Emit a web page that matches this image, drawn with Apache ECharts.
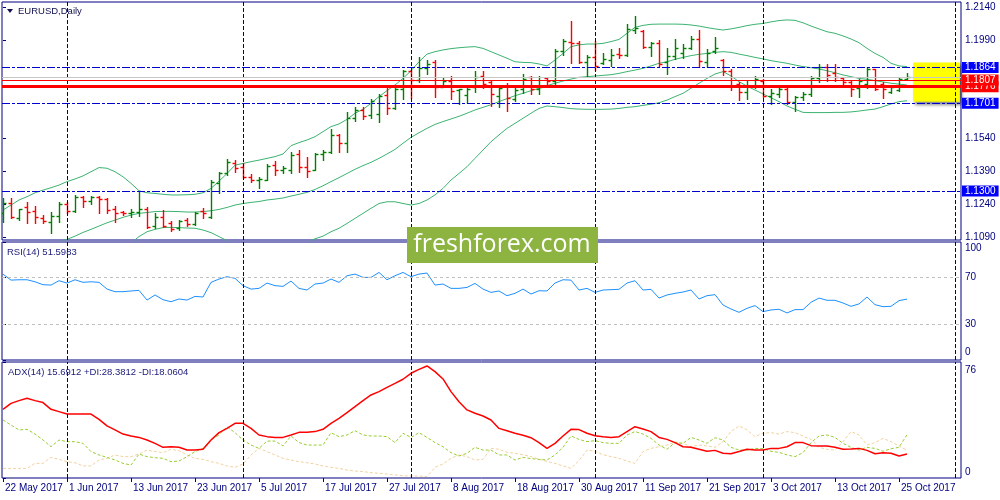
<!DOCTYPE html>
<html><head><meta charset="utf-8">
<script src="https://cdn.jsdelivr.net/npm/echarts@6/dist/echarts.min.js"></script>
<style>html,body{margin:0;padding:0;background:#fff}#c{width:1000px;height:500px}</style>
</head><body><div id="c"></div>
<script>
const dates = ['22 May 2017','23 May 2017','24 May 2017','25 May 2017','26 May 2017','29 May 2017','30 May 2017','31 May 2017',
'1 Jun 2017','2 Jun 2017','5 Jun 2017','6 Jun 2017','7 Jun 2017','8 Jun 2017','9 Jun 2017','12 Jun 2017','13 Jun 2017','14 Jun 2017','15 Jun 2017','16 Jun 2017','19 Jun 2017','20 Jun 2017','21 Jun 2017','22 Jun 2017','23 Jun 2017','26 Jun 2017','27 Jun 2017','28 Jun 2017','29 Jun 2017','30 Jun 2017',
'3 Jul 2017','4 Jul 2017','5 Jul 2017','6 Jul 2017','7 Jul 2017','10 Jul 2017','11 Jul 2017','12 Jul 2017','13 Jul 2017','14 Jul 2017','17 Jul 2017','18 Jul 2017','19 Jul 2017','20 Jul 2017','21 Jul 2017','24 Jul 2017','25 Jul 2017','26 Jul 2017','27 Jul 2017','28 Jul 2017','31 Jul 2017',
'1 Aug 2017','2 Aug 2017','3 Aug 2017','4 Aug 2017','7 Aug 2017','8 Aug 2017','9 Aug 2017','10 Aug 2017','11 Aug 2017','14 Aug 2017','15 Aug 2017','16 Aug 2017','17 Aug 2017','18 Aug 2017','21 Aug 2017','22 Aug 2017','23 Aug 2017','24 Aug 2017','25 Aug 2017','28 Aug 2017','29 Aug 2017','30 Aug 2017','31 Aug 2017',
'1 Sep 2017','4 Sep 2017','5 Sep 2017','6 Sep 2017','7 Sep 2017','8 Sep 2017','11 Sep 2017','12 Sep 2017','13 Sep 2017','14 Sep 2017','15 Sep 2017','18 Sep 2017','19 Sep 2017','20 Sep 2017','21 Sep 2017','22 Sep 2017','25 Sep 2017','26 Sep 2017','27 Sep 2017','28 Sep 2017','29 Sep 2017',
'2 Oct 2017','3 Oct 2017','4 Oct 2017','5 Oct 2017','6 Oct 2017','9 Oct 2017','10 Oct 2017','11 Oct 2017','12 Oct 2017','13 Oct 2017','16 Oct 2017','17 Oct 2017','18 Oct 2017','19 Oct 2017','20 Oct 2017','23 Oct 2017','24 Oct 2017','25 Oct 2017','26 Oct 2017'];

const tickLabels = ['22 May 2017','1 Jun 2017','13 Jun 2017','23 Jun 2017','5 Jul 2017','17 Jul 2017','27 Jul 2017','8 Aug 2017','18 Aug 2017','30 Aug 2017','11 Sep 2017','21 Sep 2017','3 Oct 2017','13 Oct 2017','25 Oct 2017'];
const monthStarts = ['1 Jun 2017','3 Jul 2017','1 Aug 2017','1 Sep 2017','2 Oct 2017'];

const open = [1.1200,1.1244,1.1175,1.1228,1.1209,1.1175,1.1160,1.1186,1.1241,1.1210,
1.1274,1.1256,1.1274,1.1262,1.1216,1.1206,1.1198,1.1206,1.1216,1.1142,
1.1183,1.1156,1.1130,1.1168,1.1150,1.1210,1.1180,1.1335,1.1381,1.1426,
1.1411,1.1365,1.1350,1.1350,1.1418,1.1396,1.1396,1.1469,1.1411,1.1396,
1.1469,1.1479,1.1554,1.1517,1.1634,1.1672,1.1647,1.1650,1.1738,1.1680,
1.1764,1.1847,1.1809,1.1862,1.1890,1.1776,1.1802,1.1761,1.1740,1.1776,
1.1824,1.1797,1.1733,1.1779,1.1721,1.1764,1.1821,1.1767,1.1817,1.1802,
1.1941,1.1980,1.1976,1.1890,1.1913,1.1885,1.1900,1.1926,1.1923,1.2037,
1.2030,1.1958,1.1976,1.1887,1.1917,1.1932,1.1954,1.1992,1.1887,1.1939,
1.1897,1.1849,1.1789,1.1751,1.1781,1.1804,1.1736,1.1744,1.1766,1.1706,
1.1729,1.1741,1.1816,1.1864,1.1838,1.1816,1.1796,1.1771,1.1789,1.1856,
1.1789,1.1751,1.1762,1.1811];
const high = [1.1267,1.1267,1.1216,1.1248,1.1232,1.1190,1.1206,1.1248,1.1251,1.1282,
1.1279,1.1279,1.1279,1.1267,1.1233,1.1210,1.1216,1.1297,1.1229,1.1198,
1.1213,1.1163,1.1168,1.1175,1.1206,1.1221,1.1350,1.1388,1.1444,1.1441,
1.1426,1.1378,1.1365,1.1423,1.1438,1.1416,1.1479,1.1487,1.1457,1.1472,
1.1487,1.1584,1.1558,1.1660,1.1685,1.1685,1.1718,1.1745,1.1779,1.1771,
1.1852,1.1852,1.1913,1.1900,1.1896,1.1817,1.1827,1.1767,1.1786,1.1850,
1.1847,1.1802,1.1779,1.1794,1.1771,1.1832,1.1827,1.1827,1.1821,1.1946,
1.1992,1.2077,1.1984,1.1919,1.1984,1.1928,1.1946,1.1953,1.2064,1.2098,
1.2033,1.1980,1.1991,1.1954,1.1992,1.1969,1.2007,1.2034,1.1947,1.2002,
1.1902,1.1856,1.1796,1.1804,1.1826,1.1811,1.1766,1.1781,1.1771,1.1736,
1.1751,1.1826,1.1879,1.1882,1.1879,1.1822,1.1804,1.1811,1.1864,1.1856,
1.1796,1.1781,1.1819,1.1837];
const low = [1.1160,1.1175,1.1168,1.1156,1.1156,1.1156,1.1107,1.1160,1.1198,1.1203,
1.1229,1.1241,1.1201,1.1198,1.1160,1.1190,1.1183,1.1186,1.1130,1.1133,
1.1137,1.1118,1.1122,1.1140,1.1145,1.1175,1.1175,1.1290,1.1373,1.1388,
1.1358,1.1343,1.1312,1.1350,1.1373,1.1384,1.1381,1.1388,1.1365,1.1396,
1.1441,1.1475,1.1478,1.1478,1.1619,1.1627,1.1634,1.1615,1.1650,1.1675,
1.1721,1.1726,1.1797,1.1832,1.1729,1.1776,1.1718,1.1695,1.1700,1.1751,
1.1771,1.1688,1.1685,1.1665,1.1710,1.1748,1.1745,1.1741,1.1779,1.1776,
1.1923,1.1885,1.1885,1.1824,1.1854,1.1878,1.1870,1.1908,1.1916,1.2022,
1.1953,1.1916,1.1872,1.1834,1.1902,1.1909,1.1947,1.1864,1.1864,1.1932,
1.1831,1.1759,1.1717,1.1721,1.1771,1.1729,1.1696,1.1729,1.1699,1.1665,
1.1714,1.1736,1.1796,1.1804,1.1804,1.1789,1.1732,1.1729,1.1771,1.1762,
1.1726,1.1747,1.1756,1.1807];
const close = [1.1245,1.1180,1.1216,1.1205,1.1183,1.1165,1.1186,1.1241,1.1210,1.1274,
1.1253,1.1274,1.1262,1.1213,1.1198,1.1198,1.1206,1.1216,1.1137,1.1183,
1.1142,1.1128,1.1165,1.1150,1.1198,1.1198,1.1343,1.1381,1.1434,1.1403,
1.1365,1.1350,1.1355,1.1416,1.1396,1.1403,1.1464,1.1411,1.1393,1.1469,
1.1479,1.1555,1.1517,1.1634,1.1672,1.1642,1.1710,1.1736,1.1680,1.1764,
1.1847,1.1809,1.1862,1.1878,1.1776,1.1802,1.1756,1.1764,1.1767,1.1821,
1.1790,1.1741,1.1771,1.1726,1.1761,1.1812,1.1767,1.1776,1.1802,1.1938,
1.1984,1.1976,1.1890,1.1913,1.1870,1.1903,1.1923,1.1923,1.2040,1.2045,
1.1958,1.1976,1.1878,1.1917,1.1954,1.1954,1.1996,1.1894,1.1932,1.1954,
1.1849,1.1781,1.1751,1.1781,1.1811,1.1736,1.1747,1.1766,1.1706,1.1729,
1.1741,1.1816,1.1864,1.1831,1.1819,1.1796,1.1766,1.1804,1.1856,1.1766,
1.1766,1.1777,1.1811,1.1822];

const bbUpper = [1.1213,1.1236,1.1259,1.1274,1.1292,1.1304,1.1315,1.1327,1.1343,1.1355,
1.1369,1.1388,1.1407,1.1404,1.1388,1.1365,1.1335,1.1301,1.1292,1.1289,
1.1285,1.1282,1.1282,1.1283,1.1285,1.1292,1.1312,1.1345,1.1380,1.1418,
1.1426,1.1434,1.1441,1.1449,1.1457,1.1469,1.1507,1.1521,1.1533,1.1548,
1.1571,1.1594,1.1606,1.1627,1.1655,1.1673,1.1700,1.1731,1.1758,1.1784,
1.1814,1.1849,1.1890,1.1925,1.1936,1.1944,1.1950,1.1954,1.1957,1.1959,
1.1951,1.1936,1.1921,1.1906,1.1890,1.1887,1.1886,1.1880,1.1871,1.1898,
1.1928,1.1959,1.1967,1.1971,1.1971,1.1974,1.1982,1.1992,1.2020,1.2047,
1.2056,1.2061,1.2062,1.2062,1.2062,1.2061,1.2058,1.2053,1.2046,1.2040,
1.2035,1.2040,1.2047,1.2055,1.2061,1.2065,1.2072,1.2078,1.2081,1.2079,
1.2068,1.2053,1.2040,1.2027,1.2020,1.2008,1.1994,1.1977,1.1951,1.1928,
1.1910,1.1883,1.1871,1.1868];
const bbMiddle = [1.0975,1.0990,1.1005,1.1020,1.1033,1.1046,1.1058,1.1068,1.1079,1.1094,
1.1111,1.1125,1.1140,1.1155,1.1167,1.1180,1.1190,1.1198,1.1202,1.1206,
1.1207,1.1207,1.1206,1.1204,1.1204,1.1206,1.1210,1.1216,1.1225,1.1236,
1.1243,1.1248,1.1252,1.1259,1.1263,1.1268,1.1277,1.1285,1.1294,1.1307,
1.1324,1.1343,1.1361,1.1380,1.1399,1.1416,1.1431,1.1449,1.1469,1.1490,
1.1518,1.1545,1.1566,1.1586,1.1604,1.1617,1.1629,1.1641,1.1655,1.1670,
1.1682,1.1694,1.1708,1.1722,1.1735,1.1746,1.1758,1.1769,1.1781,1.1792,
1.1802,1.1811,1.1819,1.1822,1.1825,1.1828,1.1831,1.1837,1.1845,1.1852,
1.1860,1.1871,1.1883,1.1890,1.1901,1.1910,1.1918,1.1924,1.1928,1.1933,
1.1936,1.1933,1.1925,1.1918,1.1910,1.1903,1.1895,1.1889,1.1883,1.1875,
1.1868,1.1863,1.1857,1.1849,1.1840,1.1830,1.1822,1.1814,1.1810,1.1804,
1.1798,1.1792,1.1788,1.1784];
const bbLower = [1.0740,1.0745,1.0750,1.0765,1.0775,1.0790,1.0800,1.0810,1.0815,1.0830,
1.0853,1.0862,1.0875,1.0905,1.0945,1.1010,1.1062,1.1092,1.1114,1.1125,
1.1133,1.1134,1.1133,1.1131,1.1130,1.1122,1.1110,1.1092,1.1073,1.1054,
1.1060,1.1062,1.1063,1.1069,1.1069,1.1067,1.1050,1.1052,1.1066,1.1082,
1.1094,1.1114,1.1130,1.1152,1.1175,1.1198,1.1221,1.1243,1.1251,1.1251,
1.1243,1.1236,1.1243,1.1259,1.1282,1.1312,1.1350,1.1380,1.1411,1.1449,
1.1487,1.1525,1.1556,1.1586,1.1609,1.1632,1.1655,1.1677,1.1688,1.1685,
1.1681,1.1676,1.1674,1.1673,1.1673,1.1673,1.1674,1.1677,1.1682,1.1685,
1.1691,1.1696,1.1703,1.1715,1.1731,1.1746,1.1769,1.1792,1.1814,1.1834,
1.1845,1.1825,1.1799,1.1779,1.1761,1.1743,1.1726,1.1708,1.1688,1.1673,
1.1659,1.1658,1.1658,1.1658,1.1659,1.1659,1.1661,1.1665,1.1670,1.1674,
1.1685,1.1697,1.1708,1.1712];

const rsi = [72.8,67.7,68.0,68.0,66.3,63.8,63.5,67.2,65.2,68.0,
65.8,66.3,65.8,60.1,57.9,57.9,58.5,59.0,50.8,55.1,
51.1,49.4,51.7,50.8,53.9,53.4,65.8,68.6,70.6,69.2,
63.0,60.1,60.7,65.2,63.0,62.4,66.9,60.7,59.3,64.4,
65.2,68.6,65.8,71.4,72.8,70.0,70.0,74.2,68.0,71.4,
74.2,70.6,72.8,73.7,63.5,64.4,60.7,60.7,61.5,64.9,
60.1,57.3,58.5,54.5,56.5,60.1,55.9,58.7,58.5,65.2,
68.0,67.7,59.3,60.7,57.3,59.3,59.6,59.9,65.2,67.2,
59.3,59.9,52.5,55.1,56.5,57.6,59.3,51.7,54.5,55.4,
46.6,43.2,40.4,43.8,46.1,41.0,42.4,43.0,39.9,42.7,
42.7,48.9,52.5,50.6,50.6,48.3,45.5,47.5,53.4,46.9,
45.2,45.5,50.3,51.6];

const adx = [45.0,48.9,50.7,52.2,50.7,49.4,45.0,43.5,41.9,41.9,
41.9,41.9,38.4,34.1,31.5,28.8,27.5,26.6,24.9,22.7,
20.1,20.5,20.1,18.3,18.3,18.8,24.9,29.7,32.5,35.8,
35.8,32.5,28.2,27.1,26.6,26.6,28.2,29.9,29.9,30.4,
31.9,35.8,39.1,42.8,46.7,50.7,54.4,56.6,59.4,62.0,
64.7,68.6,71.2,73.4,69.7,64.9,56.6,50.0,44.6,42.4,
40.6,38.0,32.5,31.0,29.3,28.0,26.4,23.2,19.4,22.7,
27.5,31.9,31.7,29.3,27.7,27.1,26.6,27.1,30.4,33.6,
32.1,30.4,26.6,25.3,23.2,20.5,20.1,18.8,17.5,18.1,
16.2,15.9,17.3,18.8,18.3,18.3,19.4,19.4,20.5,23.2,
23.2,21.2,21.0,21.0,20.1,18.8,19.0,19.4,18.1,15.9,
16.6,16.2,14.4,15.7];
const plusDI = [38.0,34.7,31.5,31.9,28.8,24.9,20.5,24.9,23.8,23.8,
22.7,17.3,15.1,13.5,11.8,9.6,8.5,15.7,14.0,13.3,
12.9,10.7,11.1,14.0,17.3,19.4,24.9,28.2,33.6,29.7,
24.9,21.6,19.4,24.2,24.2,21.0,27.5,23.2,21.6,21.6,
21.6,29.7,27.1,28.2,31.0,28.2,27.5,27.5,27.1,23.2,
29.3,26.6,29.7,26.6,23.2,20.5,16.6,14.4,16.2,20.1,
18.3,18.3,15.1,15.1,11.8,13.5,12.7,12.2,11.8,15.1,
20.1,27.5,25.3,23.8,24.5,23.2,22.7,22.7,28.2,30.4,
28.8,26.0,21.6,18.8,23.2,22.7,26.6,24.9,22.7,26.4,
24.9,20.1,18.3,18.3,19.4,19.2,17.5,16.8,15.1,14.0,
16.6,23.2,27.5,28.2,26.6,22.7,20.1,18.3,20.1,19.4,
17.5,19.2,20.1,28.4];
const minusDI = [6.3,6.3,6.3,6.3,9.6,9.6,13.5,12.2,10.7,10.0,
7.9,7.9,11.8,12.9,15.1,14.0,14.0,15.7,18.3,17.3,
16.6,18.8,17.9,15.1,12.9,12.2,10.7,9.6,7.9,7.0,
9.2,15.1,19.4,17.3,15.1,12.9,11.8,10.7,10.0,9.2,
7.9,7.0,6.3,5.2,4.6,4.2,3.5,3.1,2.6,2.0,
1.5,1.3,1.3,0.9,7.0,9.2,12.9,15.1,14.0,11.8,
12.2,19.4,18.8,16.8,16.2,15.3,14.0,12.2,10.9,9.6,
7.9,6.3,11.4,18.3,17.5,15.3,14.0,12.9,11.1,9.6,
17.3,19.4,20.5,21.6,23.6,22.7,20.5,21.6,21.0,20.1,
23.8,30.4,34.1,31.5,27.1,29.3,29.7,28.8,30.4,29.7,
27.5,25.3,20.1,18.8,18.3,23.8,30.4,28.2,21.6,23.2,
26.0,23.8,21.0,18.1];

const priceTicks = [1.1090,1.1240,1.1390,1.1540,1.1990,1.2140];
const rsiTicks = [0,30,70,100];
const adxTicks = [0,76];
const supportResistance = [1.1864,1.1701,1.1300];
const bidLevel = 1.1820;
const redLevelThin = 1.1807;
const redLevelThick = 1.1776;

// ---------- styling / layout ----------
const NAVY = '#000080';
const FONT = "'Liberation Sans', Arial, sans-serif";
const UP = '#008000', DOWN = '#ff0000';
const X_MIN = -0.125, X_MAX = 119.75;
const tickIdx = tickLabels.map(t => dates.indexOf(t));
const sepIdx = monthStarts.map(t => dates.indexOf(t)).concat([119]);

const chart = echarts.init(document.getElementById('c'), null, {renderer: 'canvas'});

function pairs(arr) { return arr.map((v, i) => [i, v]); }
const ohlc = open.map((o, i) => [i, o, high[i], low[i], close[i]]);

const gridBase = {show: true, borderColor: NAVY, borderWidth: 1, backgroundColor: '#fff', containLabel: false};
const grids = [
  Object.assign({left: 2, top: 2, width: 959, height: 238}, gridBase),
  Object.assign({left: 2, top: 242, width: 959, height: 118}, gridBase),
  Object.assign({left: 2, top: 362, width: 959, height: 116}, gridBase)
];

const xAxes = [0, 1, 2].map(k => ({
  type: 'value', gridIndex: k, min: X_MIN, max: X_MAX,
  axisLine: {show: false}, splitLine: {show: false},
  axisTick: k === 2 ? {show: true, customValues: tickIdx, length: 4, lineStyle: {color: NAVY}} : {show: false},
  axisLabel: k === 2 ? {show: true, customValues: tickIdx, formatter: v => dates[Math.round(v)] || '',
    align: 'left', color: NAVY, fontFamily: FONT, fontSize: 10, margin: 5, padding: [0, 0, 0, 2]} : {show: false}
}));

const yLabelBase = {color: NAVY, fontFamily: FONT, fontSize: 10, margin: 4};
const yAxes = [
  {type: 'value', gridIndex: 0, position: 'right', min: 1.10764, max: 1.21628,
   axisLine: {show: false}, splitLine: {show: false},
   axisTick: {show: true, customValues: priceTicks, length: 3, lineStyle: {color: NAVY}},
   axisLabel: Object.assign({customValues: priceTicks, formatter: v => v.toFixed(4)}, yLabelBase)},
  {type: 'value', gridIndex: 1, position: 'right', min: 0, max: 100,
   axisLine: {show: false}, splitLine: {show: false},
   axisTick: {show: true, customValues: rsiTicks, length: 3, lineStyle: {color: NAVY}},
   axisLabel: Object.assign({customValues: rsiTicks,
     formatter: v => v === 100 ? '{t|100}' : (v === 0 ? '{b|0}' : String(v)),
     rich: {t: {padding: [12, 0, 0, 0], color: NAVY, fontFamily: FONT, fontSize: 10},
            b: {padding: [0, 0, 16, 0], color: NAVY, fontFamily: FONT, fontSize: 10}}}, yLabelBase)},
  {type: 'value', gridIndex: 2, position: 'right', min: 0, max: 76,
   axisLine: {show: false}, splitLine: {show: false},
   axisTick: {show: true, customValues: adxTicks, length: 3, lineStyle: {color: NAVY}},
   axisLabel: Object.assign({customValues: adxTicks,
     formatter: v => v === 76 ? '{t|76}' : '{b|0}',
     rich: {t: {padding: [16, 0, 0, 0], color: NAVY, fontFamily: FONT, fontSize: 10},
            b: {padding: [0, 0, 11, 0], color: NAVY, fontFamily: FONT, fontSize: 10}}}, yLabelBase)}
];

function vLines(k) {
  return {
    type: 'line', xAxisIndex: k, yAxisIndex: k, data: [], symbol: 'none', silent: true, z: 2,
    markLine: {silent: true, symbol: ['none', 'none'], animation: false, precision: 4,
      lineStyle: {color: NAVY, type: [4, 2], width: 1}, label: {show: false},
      data: sepIdx.map(i => ({xAxis: i}))}
  };
}

function boxLabel(bg) {
  return {show: true, position: 'end', distance: 1, formatter: p => Number(p.value).toFixed(4),
    color: '#fff', backgroundColor: bg, padding: [1, 3, 0, 3], fontFamily: FONT, fontSize: 10, lineHeight: 10};
}
const BLUE_LINE = '#0000cc';
const DASHDOT = [8, 2, 3, 2];

const series = [
  // yellow zone
  {type: 'line', xAxisIndex: 0, yAxisIndex: 0, data: [], symbol: 'none', silent: true, z: 1,
   markArea: {silent: true, animation: false, precision: 4,
     itemStyle: {color: '#ffff00', shadowColor: 'rgba(0,0,0,0.45)', shadowBlur: 3, shadowOffsetX: 2, shadowOffsetY: 3},
     data: [[{xAxis: 113.75, yAxis: 1.1887}, {xAxis: 119.6, yAxis: 1.1708}]]}},
  vLines(0), vLines(1), vLines(2),
  // Bollinger bands
  {name: 'BB upper', type: 'line', xAxisIndex: 0, yAxisIndex: 0, data: pairs(bbUpper), symbol: 'none',
   lineStyle: {color: '#3cb371', width: 1}, z: 2, silent: true},
  {name: 'BB middle', type: 'line', xAxisIndex: 0, yAxisIndex: 0, data: pairs(bbMiddle), symbol: 'none',
   lineStyle: {color: '#3cb371', width: 1}, z: 2, silent: true},
  {name: 'BB lower', type: 'line', xAxisIndex: 0, yAxisIndex: 0, data: pairs(bbLower), symbol: 'none',
   lineStyle: {color: '#3cb371', width: 1}, z: 2, silent: true},
  // OHLC bars
  {type: 'custom', xAxisIndex: 0, yAxisIndex: 0, data: ohlc, clip: true, z: 3,
   encode: {x: 0, y: [1, 2, 3, 4]},
   renderItem: function (params, api) {
     const i = api.value(0), o = api.value(1), h = api.value(2), l = api.value(3), c = api.value(4);
     const ph = api.coord([i, h]), pl = api.coord([i, l]), po = api.coord([i, o]), pc = api.coord([i, c]);
     const x = Math.round(ph[0]) + 0.5;
     const col = c >= o ? UP : DOWN;
     const yo = Math.round(po[1]) + 0.5, yc = Math.round(pc[1]) + 0.5;
     const st = {stroke: col, lineWidth: 1.4};
     return {type: 'group', children: [
       {type: 'line', shape: {x1: x, y1: Math.round(ph[1]), x2: x, y2: Math.round(pl[1]) + 1}, style: st},
       {type: 'line', shape: {x1: x - 3, y1: yo, x2: x, y2: yo}, style: st},
       {type: 'line', shape: {x1: x, y1: yc, x2: x + 3, y2: yc}, style: st}
     ]};
   }},
  // horizontal levels
  {type: 'line', xAxisIndex: 0, yAxisIndex: 0, data: [], symbol: 'none', silent: true, z: 4,
   markLine: {silent: true, symbol: ['none', 'none'], animation: false, precision: 4,
     data: [
       {yAxis: bidLevel, lineStyle: {color: '#c8c8c8', width: 1, type: 'solid'}, label: {show: false}},
       {yAxis: supportResistance[0], lineStyle: {color: BLUE_LINE, width: 1, type: DASHDOT}, label: boxLabel('#0000ff')},
       {yAxis: supportResistance[1], lineStyle: {color: BLUE_LINE, width: 1, type: DASHDOT}, label: boxLabel('#0000ff')},
       {yAxis: supportResistance[2], lineStyle: {color: BLUE_LINE, width: 1, type: DASHDOT}, label: boxLabel('#0000ff')},
       {yAxis: redLevelThick, lineStyle: {color: '#ff0000', width: 3, type: 'solid'}, label: boxLabel('#ff0000')},
       {yAxis: redLevelThin, lineStyle: {color: '#ff0000', width: 1, type: 'solid'}, label: boxLabel('#ff0000')}
     ]}},
  // RSI
  {name: 'RSI', type: 'line', xAxisIndex: 1, yAxisIndex: 1, data: pairs(rsi), symbol: 'none',
   lineStyle: {color: '#1e90ff', width: 1}, z: 3, silent: true,
   markLine: {silent: true, symbol: ['none', 'none'], animation: false, label: {show: false},
     lineStyle: {color: '#c0c0c0', type: [3, 3], width: 1},
     data: [{yAxis: 70}, {yAxis: 30}]}},
  // ADX
  {name: '-DI', type: 'line', xAxisIndex: 2, yAxisIndex: 2, data: pairs(minusDI), symbol: 'none',
   lineStyle: {color: '#f2d2a0', width: 1, type: [3, 2]}, z: 2, silent: true},
  {name: '+DI', type: 'line', xAxisIndex: 2, yAxisIndex: 2, data: pairs(plusDI), symbol: 'none',
   lineStyle: {color: '#9acd32', width: 1, type: [3, 2]}, z: 3, silent: true},
  {name: 'ADX', type: 'line', xAxisIndex: 2, yAxisIndex: 2, data: pairs(adx), symbol: 'none',
   lineStyle: {color: '#ff0000', width: 1.5}, z: 4, silent: true}
];

const graphic = [
  {type: 'polygon', shape: {points: [[7, 9], [13, 9], [10, 13]]}, style: {fill: '#101050'}, z: 100},
  {type: 'text', x: 18, y: 11, z: 100, style: {text: 'EURUSD,Daily', fill: '#101050', fontFamily: FONT, fontSize: 9.5, verticalAlign: 'middle'}},
  {type: 'text', x: 7, y: 252, z: 100, style: {text: 'RSI(14) 51.5983', fill: '#1a1a7a', fontFamily: FONT, fontSize: 9.5, verticalAlign: 'middle'}},
  {type: 'text', x: 8, y: 372, z: 100, style: {text: 'ADX(14) 15.6912 +DI:28.3812 -DI:18.0604', fill: '#1a1a7a', fontFamily: FONT, fontSize: 9.5, verticalAlign: 'middle'}},
  {type: 'rect', shape: {x: 407, y: 227, width: 191, height: 36}, style: {fill: '#8db441'}, z: 100},
  {type: 'text', x: 502, y: 245, z: 101, style: {text: 'freshforex.com', fill: '#ffffff', fontFamily: "'Open Sans', sans-serif", fontSize: 25, align: 'center', verticalAlign: 'middle'}}
];

chart.setOption({
  animation: false,
  backgroundColor: '#ffffff',
  grid: grids,
  xAxis: xAxes,
  yAxis: yAxes,
  series: series,
  graphic: graphic
});
</script>
</body></html>
